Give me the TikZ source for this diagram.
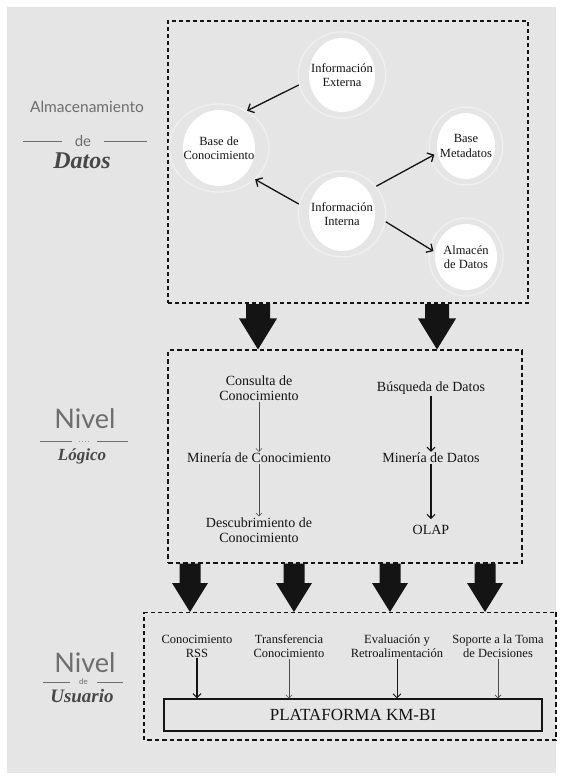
\documentclass[tikz,border=0pt]{standalone}
\usepackage{fontspec}
\setmainfont{Liberation Serif}
\newfontfamily\labelsans{Lato}
\usetikzlibrary{shapes.geometric,arrows.meta,calc}

\definecolor{paper}{HTML}{E5E5E5}
\definecolor{ink}{HTML}{141414}
\definecolor{sidegray}{HTML}{6E6E6E}
\definecolor{scriptgray}{HTML}{474747}

% solid downward block arrow between two points (start, tip)
\newcommand\bigdown[5]{%
  \fill[ink] let \p1=(#1), \p2=(#2) in
    (\x1-#3,\y1) -- (\x1+#3,\y1) -- (\x1+#3,\y2+#5) -- (\x1+#4,\y2+#5)
    -- (\x1,\y2) -- (\x1-#4,\y2+#5) -- (\x1-#3,\y2+#5) -- cycle;}

\tikzset{
  bubble/.style n args={2}{ellipse, inner sep=0pt,
    minimum width=#1pt+12pt, minimum height=#2pt+12pt,
    draw=white, draw opacity=0.4, line width=1.4pt,
    align=center, text=ink, font=\fontsize{12.5}{14.5}\selectfont,
    path picture={\fill[white] (path picture bounding box.center)
      ellipse [x radius=#1pt/2, y radius=#2pt/2];}},
  conn/.style={-{Straight Barb[length=5pt,width=10pt]}, line width=1.3pt, ink},
  midtxt/.style={align=center, text=ink, inner sep=1pt,
    font=\fontsize{14}{15}\selectfont},
  usrtxt/.style={align=center, text=ink, inner sep=1pt,
    font=\fontsize{12.5}{14}\selectfont},
  thinarr/.style={-{Straight Barb[length=3pt,width=6pt]}, line width=0.6pt, black!70},
  boldarr/.style={-{Straight Barb[length=4pt,width=8pt]}, line width=1.1pt, ink},
  sidetxt/.style={text=sidegray, inner sep=0pt, anchor=base},
  scripttxt/.style={text=scriptgray, inner sep=0pt, anchor=base},
  sideline/.style={sidegray, line width=0.9pt},
}

\begin{document}
\begin{tikzpicture}[x=1pt, y=-1pt]
\useasboundingbox (0,0) rectangle (563,780);
\fill[white] (0,0) rectangle (563,780);
\fill[paper] (7,7) rectangle (556,773);

% ---------------- frames ----------------
\node[draw=ink, dash pattern=on 4pt off 3pt, line width=2.4pt,
      minimum width=360pt, minimum height=282pt, inner sep=0pt] (store) at (348,162) {};
\node[draw=ink, dash pattern=on 4.5pt off 3pt, line width=1.1pt,
      minimum width=354pt, minimum height=213pt, inner sep=0pt] (logic) at (345,456.5) {};
\node[minimum width=412pt, minimum height=128pt, inner sep=0pt, outer sep=0pt] (user) at (350,676) {};
\draw[ink, line width=0.9pt, dash pattern=on 4pt off 3pt] (user.north west) -- (user.north east);
\draw[ink, line width=2.2pt, dash pattern=on 4.5pt off 3pt] (user.north east) -- (user.south east) -- (user.south west);
\draw[ink, line width=1.5pt, dash pattern=on 4pt off 3pt] (user.south west) -- (user.north west);

% ---------------- data storage ----------------
\node[bubble={66}{74}] (ext)  at (342,75)  {Información\\Externa};
\node[bubble={72}{76}] (base) at (219,148) {Base de\\Conocimiento};
\node[bubble={58}{66}] (meta) at (466,146) {Base\\Metadatos};
\node[bubble={66}{74}] (int)  at (342,214) {Información\\Interna};
\node[bubble={62}{66}] (alm)  at (466,257) {Almacén\\de Datos};

\draw[conn] (ext.193) -- (base.53);
\draw[conn] (int.167) -- (base.319);
\draw[conn, shorten >=-5pt] (int.39) -- (meta.197);
\draw[conn, shorten >=-5pt] (int.350) -- (alm.167);

% ---------------- logical level ----------------
\node[midtxt] (cons) at (259,388) {Consulta de\\Conocimiento};
\node[midtxt] (minc) at (259,458) {Minería de Conocimiento};
\node[midtxt] (desc) at (259,530) {Descubrimiento de\\Conocimiento};
\node[midtxt] (busq) at (431,388) {Búsqueda de Datos};
\node[midtxt] (mind) at (431,458) {Minería de Datos};
\node[midtxt] (olap) at (431,530) {OLAP};

\draw[thinarr] (cons.south) -- (cons.south |- minc.north);
\draw[thinarr] (minc.south) -- (minc.south |- desc.north);
\draw[boldarr] (busq.south) -- (busq.south |- mind.north);
\draw[boldarr] (mind.south) -- ([yshift=5pt]mind.south |- olap.north);

% ---------------- user level ----------------
\node[usrtxt] (rss)  at (197,646) {Conocimiento\\RSS};
\node[usrtxt] (trf)  at (289,646) {Transferencia\\Conocimiento};
\node[usrtxt] (eval) at (397,646) {Evaluación y\\Retroalimentación};
\node[usrtxt] (sop)  at (498,646) {Soporte a la Toma\\de Decisiones};

\node[draw=ink, line width=1.2pt, minimum width=378pt, minimum height=32pt,
      inner sep=0pt, text=ink, font=\fontsize{17}{17}\selectfont] (plat) at (353,715) {PLATAFORMA KM-BI};

\draw[boldarr] (rss.south) -- (rss.south |- plat.north);
\draw[thinarr] (trf.south) -- (trf.south |- plat.north);
\draw[boldarr, line width=0.9pt] (eval.south) -- (eval.south |- plat.north);
\draw[thinarr, line width=0.7pt] (sop.south) -- (sop.south |- plat.north);

% ---------------- block arrows between levels ----------------
\coordinate (dA) at (258,0);
\coordinate (dB) at (437,0);
\coordinate (dC) at (190,0);
\coordinate (dD) at (294,0);
\coordinate (dE) at (390,0);
\coordinate (dF) at (485,0);
\bigdown{store.south -| dA}{logic.north -| dA}{12pt}{19pt}{31pt}
\bigdown{store.south -| dB}{logic.north -| dB}{12pt}{19pt}{31pt}
\bigdown{logic.south -| dC}{user.north -| dC}{10.5pt}{18pt}{29pt}
\bigdown{logic.south -| dD}{user.north -| dD}{10.5pt}{18pt}{29pt}
\bigdown{logic.south -| dE}{user.north -| dE}{10.5pt}{18pt}{29pt}
\bigdown{logic.south -| dF}{user.north -| dF}{10.5pt}{18pt}{29pt}

% ---------------- side titles ----------------
\node[sidetxt, font=\labelsans\fontsize{15.5}{15.5}\selectfont] (t1a) at (87,112) {Almacenamiento};
\node[text=sidegray, inner sep=1pt, font=\labelsans\fontsize{15}{15}\selectfont] (t1b) at (83,141) {de};
\draw[sideline] (t1b.west) ++(-12pt,0) -- (23,141);
\draw[sideline] (t1b.east) ++(12pt,0) -- (147,141);
\node[scripttxt, font=\bfseries\itshape\fontsize{24}{24}\selectfont] (t1c) at (82,168) {Datos};

\node[sidetxt, font=\labelsans\fontsize{27}{27}\selectfont] (t2a) at (85,428) {Nivel};
\coordinate (t2b) at (84.5,441);
\draw[sideline] (40,441) -- (72,441);
\draw[sideline] (97,441) -- (128,441);
\draw[sidegray!70, line width=0.6pt, dash pattern=on 1.5pt off 1.5pt] ([xshift=-6pt]t2b) -- ([xshift=6pt]t2b);
\node[scripttxt, font=\bfseries\itshape\fontsize{17}{17}\selectfont] (t2c) at (82,460) {Lógico};

\node[sidetxt, font=\labelsans\fontsize{27}{27}\selectfont] (t3a) at (85,672) {Nivel};
\node[text=sidegray, inner sep=1pt, font=\labelsans\fontsize{8}{8}\selectfont] (t3b) at (83.5,682) {de};
\draw[sideline] (43,682) -- (70,682);
\draw[sideline] (97,682) -- (123,682);
\node[scripttxt, font=\bfseries\itshape\fontsize{19}{19}\selectfont] (t3c) at (82,702) {Usuario};
\end{tikzpicture}
\end{document}
